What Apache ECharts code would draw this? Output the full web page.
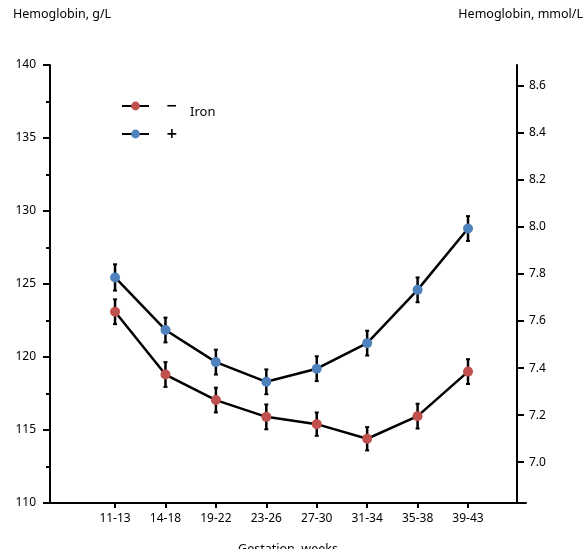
<!DOCTYPE html>
<html>
<head>
<meta charset="utf-8">
<script src="https://cdn.jsdelivr.net/npm/echarts@6/dist/echarts.min.js"></script>
<style>html,body{margin:0;padding:0;background:#fff;overflow:hidden}#c{width:585px;height:549px}</style>
</head>
<body>
<div id="c"></div>
<script>
const categories = ['11-13','14-18','19-22','23-26','27-30','31-34','35-38','39-43'];
const ironMinus = [123.1, 118.8, 117.05, 115.9, 115.4, 114.4, 115.95, 119.0];
const ironMinusErr = [0.85, 0.85, 0.85, 0.85, 0.8, 0.8, 0.85, 0.85];
const ironPlus = [125.45, 121.85, 119.65, 118.3, 119.2, 120.95, 124.6, 128.8];
const ironPlusErr = [0.9, 0.85, 0.85, 0.85, 0.85, 0.85, 0.85, 0.85];
const leftTicks = [110, 140, 5];
const rightTickValues = [7.0, 7.2, 7.4, 7.6, 7.8, 8.0, 8.2, 8.4, 8.6];
const gToMmol = 0.06206;

const FONT = 'Noto Sans';
const chart = echarts.init(document.getElementById('c'), null, {renderer: 'canvas'});

function pts(vals) { return vals.map((v, i) => [i, v]); }
function errData(vals, errs) { return vals.map((v, i) => [i, v - errs[i], v + errs[i]]); }

function renderErr(params, api) {
  const x = api.value(0);
  const lo = api.coord([x, api.value(1)]);
  const hi = api.coord([x, api.value(2)]);
  const cw = 2;
  return {
    type: 'group',
    children: [
      {type: 'line', shape: {x1: lo[0], y1: lo[1], x2: hi[0], y2: hi[1]}, style: {stroke: '#000', lineWidth: 2.5}},
      {type: 'line', shape: {x1: lo[0] - cw, y1: lo[1], x2: lo[0] + cw, y2: lo[1]}, style: {stroke: '#000', lineWidth: 2}},
      {type: 'line', shape: {x1: hi[0] - cw, y1: hi[1], x2: hi[0] + cw, y2: hi[1]}, style: {stroke: '#000', lineWidth: 2}}
    ]
  };
}

const option = {
  animation: false,
  backgroundColor: '#fff',
  textStyle: {fontFamily: FONT, color: '#000'},
  grid: {left: 50, right: 59, top: 65, bottom: 46, containLabel: false, outerBoundsMode: 'none'},
  legend: {
    orient: 'vertical',
    left: 116,
    top: 94,
    itemWidth: 27,
    itemHeight: 11,
    itemGap: 14,
    data: ['−', '+'],
    textStyle: {fontFamily: 'DejaVu Sans', fontSize: 14, fontWeight: 'bold', color: '#000', padding: [0, 0, 0, 12]}
  },
  graphic: [
    {type: 'text', left: 13, top: 8, style: {text: 'Hemoglobin, g/L', font: '12.5px "Noto Sans"', fill: '#000'}},
    {type: 'text', right: 2, top: 8, style: {text: 'Hemoglobin, mmol/L', font: '12.5px "Noto Sans"', fill: '#000'}},
    {type: 'text', left: 190, top: 106, style: {text: 'Iron', font: '13px "Noto Sans"', fill: '#000'}}
  ],
  xAxis: {
    type: 'value',
    min: -1.29,
    max: 8.15,
    name: 'Gestation, weeks',
    nameLocation: 'middle',
    nameGap: 40,
    nameTextStyle: {fontFamily: FONT, fontSize: 12.5, color: '#000'},
    axisLine: {show: true, onZero: false, lineStyle: {color: '#000', width: 2}},
    axisTick: {show: true, length: 5, customValues: [0,1,2,3,4,5,6,7], lineStyle: {color: '#000', width: 2}},
    axisLabel: {
      customValues: [0,1,2,3,4,5,6,7],
      formatter: v => categories[Math.round(v)],
      fontFamily: FONT, fontSize: 12, color: '#000', margin: 10
    },
    splitLine: {show: false}
  },
  yAxis: [
    {
      type: 'value',
      min: leftTicks[0], max: leftTicks[1], interval: leftTicks[2],
      position: 'left',
      axisLine: {show: true, onZero: false, lineStyle: {color: '#000', width: 2}},
      axisTick: {show: true, length: 7, lineStyle: {color: '#000', width: 2}},
      minorTick: {show: true, splitNumber: 2, length: 4, lineStyle: {color: '#000', width: 2}},
      axisLabel: {fontFamily: FONT, fontSize: 12, color: '#000', margin: 14},
      splitLine: {show: false}
    },
    {
      type: 'value',
      min: leftTicks[0] * gToMmol, max: leftTicks[1] * gToMmol,
      position: 'right',
      offset: -9,
      axisLine: {show: true, onZero: false, lineStyle: {color: '#000', width: 2}},
      axisTick: {show: true, length: 7, customValues: rightTickValues, lineStyle: {color: '#000', width: 2}},
      axisLabel: {customValues: rightTickValues, formatter: v => v.toFixed(1), fontFamily: FONT, fontSize: 12, color: '#000', margin: 12},
      splitLine: {show: false}
    }
  ],
  series: [
    {type: 'custom', name: 'errMinus', renderItem: renderErr, data: errData(ironMinus, ironMinusErr), z: 2, silent: true},
    {type: 'custom', name: 'errPlus', renderItem: renderErr, data: errData(ironPlus, ironPlusErr), z: 2, silent: true},
    {
      type: 'line', name: '−', data: pts(ironMinus), symbol: 'circle', symbolSize: 10, z: 3,
      lineStyle: {color: '#000', width: 2.5},
      itemStyle: {color: '#c0504d', borderWidth: 0}
    },
    {
      type: 'line', name: '+', data: pts(ironPlus), symbol: 'circle', symbolSize: 10, z: 3,
      lineStyle: {color: '#000', width: 2.5},
      itemStyle: {color: '#4f81bd', borderWidth: 0}
    }
  ]
};
chart.setOption(option);
</script>
</body>
</html>
